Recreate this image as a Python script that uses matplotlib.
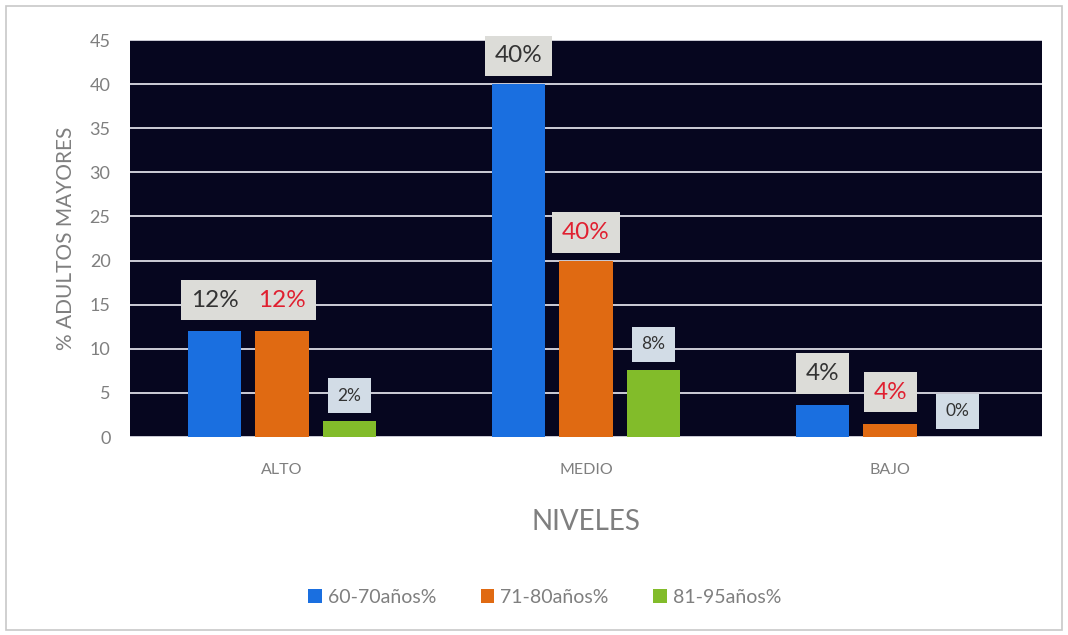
import matplotlib
matplotlib.use("Agg")
import matplotlib.pyplot as plt
import numpy as np
from matplotlib.patches import Rectangle

plt.rcParams['font.family'] = ['Lato', 'DejaVu Sans']

categories = ["ALTO", "MEDIO", "BAJO"]
series_names = ["60-70años%", "71-80años%", "81-95años%"]
values_60_70 = [12, 40, 3.6]
values_71_80 = [12, 20, 1.5]
values_81_95 = [1.8, 7.6, 0]
labels_60_70 = ["12%", "40%", "4%"]
labels_71_80 = ["12%", "40%", "4%"]
labels_81_95 = ["2%", "8%", "0%"]
colors = ["#1a6fe0", "#e06a12", "#82bc2a"]
label_colors = ["#333333", "#e02030", "#333333"]

fig = plt.figure(figsize=(10.68, 6.35), dpi=100)
fig.patch.set_facecolor("white")
fig.patches.append(Rectangle((0.006, 0.008), 0.988, 0.982, transform=fig.transFigure,
                             fill=False, edgecolor="#c8c8c8", linewidth=1.2))
ax = fig.add_axes([0.1217, 0.3118, 0.854, 0.6252])
ax.set_facecolor("#06061f")

x = np.arange(len(categories))
w = 0.175
step = 0.221
big_offsets = [3.5, 3.2, 3.6]
all_vals = [values_60_70, values_71_80, values_81_95]
all_labels = [labels_60_70, labels_71_80, labels_81_95]
for i, (vals, labs) in enumerate(zip(all_vals, all_labels)):
    pos = x + (i - 1) * step
    ax.bar(pos, vals, width=w, color=colors[i], zorder=3, label=series_names[i])
    for j, (p, v, lab) in enumerate(zip(pos, vals, labs)):
        if i == 2:
            fs, pad, off, fc = 12.5, 0.55, 2.9, "#d2dce6"
        else:
            fs, pad, off, fc = 17.5, 0.4, big_offsets[j], "#dcdcd8"
        ax.text(p, v + off, lab, ha="center", va="center", fontsize=fs,
                color=label_colors[i], zorder=5,
                bbox=dict(boxstyle=f"square,pad={pad}", facecolor=fc, edgecolor="none"))

ax.set_xlim(-0.5, 2.5)
ax.set_ylim(0, 45)
ax.set_yticks(np.arange(0, 46, 5))
ax.yaxis.grid(True, color="#dcdce6", linewidth=1.3, zorder=1)
ax.set_axisbelow(True)
ax.set_xticks(x)
ax.set_xticklabels(categories)
ax.tick_params(axis="both", length=0, colors="#7f7f7f")
ax.tick_params(axis="y", labelsize=13, pad=14)
ax.tick_params(axis="x", labelsize=11.5, pad=19)
for s in ax.spines.values():
    s.set_visible(False)
ax.set_ylabel("% ADULTOS MAYORES", fontsize=15, color="#7f7f7f", labelpad=10)
ax.set_xlabel("NIVELES", fontsize=20, color="#7f7f7f", labelpad=23)

leg = fig.legend(loc="center", bbox_to_anchor=(0.51, 0.059), ncol=3, frameon=False,
                 fontsize=14, handlelength=0.7, handleheight=0.7, columnspacing=2.3,
                 handletextpad=0.3)
for t in leg.get_texts():
    t.set_color("#7f7f7f")

fig.savefig("out.png", dpi=100)
